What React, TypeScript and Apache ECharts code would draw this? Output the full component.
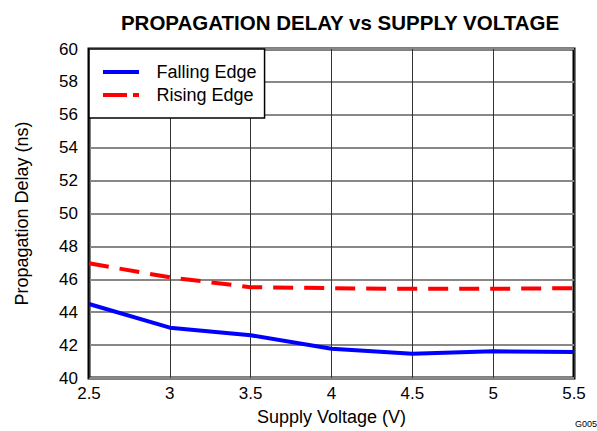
import React, { useEffect, useRef } from "react";
import * as echarts from "echarts";

const voltages = [2.5, 3.0, 3.5, 4.0, 4.5, 5.0, 5.5];
const fallingEdge = [44.5, 43.06, 42.6, 41.78, 41.47, 41.62, 41.58];
const risingEdge = [46.97, 46.12, 45.52, 45.46, 45.42, 45.42, 45.46];

const FONT = "Liberation Sans, Arial, sans-serif";

export default function App() {
  const ref = useRef<HTMLDivElement>(null);
  useEffect(() => {
    if (!ref.current) return;
    const chart = echarts.init(ref.current, undefined, { renderer: "svg" });
    chart.setOption({
      animation: false,
      backgroundColor: "#fff",
      textStyle: { fontFamily: FONT },
      title: {
        text: "PROPAGATION DELAY vs SUPPLY VOLTAGE",
        left: 335,
        textAlign: "center",
        top: 7,
        textStyle: { fontFamily: FONT, fontWeight: "bold", fontSize: 20.5, color: "#000" },
      },
      grid: {
        left: 89,
        right: 23,
        top: 49,
        bottom: 53,
        show: true,
        borderColor: "#000",
        borderWidth: 3,
        backgroundColor: "transparent",
      },
      legend: {
        orient: "vertical",
        left: 89,
        top: 49,
        width: 175,
        padding: [14, 8, 14, 14],
        itemGap: 5,
        itemWidth: 37,
        itemHeight: 4,
        backgroundColor: "#fff",
        borderColor: "#000",
        borderWidth: 1.5,
        borderRadius: 0,
        textStyle: { fontFamily: FONT, fontSize: 18, color: "#000", padding: [0, 0, 0, 12] },
        data: [
          { name: "Falling Edge", icon: "path://M0,0h36v4h-36z", itemStyle: { color: "#0000ff" } },
          {
            name: "Rising Edge",
            icon: "path://M0,0h24v4h-24z M30,0h6v4h-6z",
            itemStyle: { color: "#ff0000" },
          },
        ],
      },
      xAxis: {
        type: "value",
        min: 2.5,
        max: 5.5,
        interval: 0.5,
        name: "Supply Voltage (V)",
        nameLocation: "middle",
        nameGap: 30,
        nameTextStyle: { fontFamily: FONT, fontSize: 18, color: "#000" },
        axisLine: { show: false },
        axisTick: { show: false },
        axisLabel: { fontFamily: FONT, fontSize: 17, color: "#000", margin: 7 },
        splitLine: { show: true, lineStyle: { color: "#333", width: 1 } },
      },
      yAxis: {
        type: "value",
        min: 40,
        max: 60,
        interval: 2,
        name: "Propagation Delay (ns)",
        nameLocation: "middle",
        nameGap: 58,
        nameTextStyle: { fontFamily: FONT, fontSize: 18, color: "#000" },
        axisLine: { show: false },
        axisTick: { show: false },
        axisLabel: { fontFamily: FONT, fontSize: 17, color: "#000", margin: 11 },
        splitLine: { show: true, lineStyle: { color: "#888", width: 2 } },
      },
      graphic: [
        {
          type: "text",
          right: 0,
          top: 419,
          style: { text: "G005", fontFamily: FONT, fontSize: 9, fill: "#000" },
        },
      ],
      series: [
        {
          name: "Falling Edge",
          type: "line",
          data: voltages.map((v, i) => [v, fallingEdge[i]]),
          showSymbol: false,
          symbol: "none",
          color: "#0000ff",
          lineStyle: { color: "#0000ff", width: 4 },
          z: 5,
        },
        {
          name: "Rising Edge",
          type: "line",
          data: voltages.map((v, i) => [v, risingEdge[i]]),
          showSymbol: false,
          symbol: "none",
          color: "#ff0000",
          lineStyle: { color: "#ff0000", width: 4, type: [20, 11] },
          z: 5,
        },
      ],
    });
    return () => chart.dispose();
  }, []);
  return <div ref={ref} style={{ width: 597, height: 431, position: "absolute", left: 0, top: 0 }} />;
}
